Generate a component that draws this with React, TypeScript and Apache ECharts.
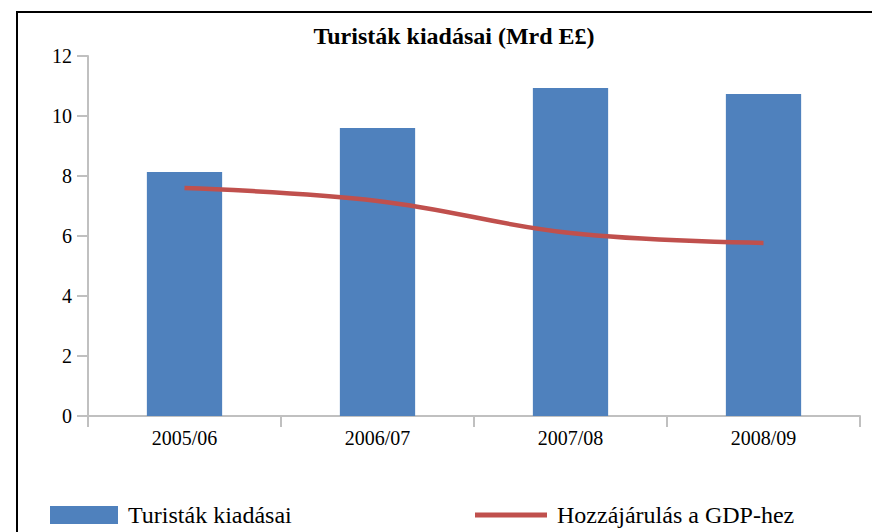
import React, { useEffect, useRef } from "react";
import * as echarts from "echarts";

const categories = ["2005/06", "2006/07", "2007/08", "2008/09"];
const spending = [8.13, 9.6, 10.93, 10.73];
const gdpShare = [7.6, 7.17, 6.1, 5.77];
const yTicks = { min: 0, max: 12, interval: 2 };
const titleText = "Turisták kiadásai (Mrd E£)";
const barName = "Turisták kiadásai";
const lineName = "Hozzájárulás a GDP-hez";

const FONT = "'Liberation Serif', 'Times New Roman', serif";

export default function App() {
  const ref = useRef<HTMLDivElement>(null);
  useEffect(() => {
    document.body.style.margin = "0";
    const chart = echarts.init(ref.current!, null, { renderer: "svg" });
    chart.setOption({
      animation: false,
      backgroundColor: "#ffffff",
      textStyle: { fontFamily: FONT },
      graphic: [
        {
          type: "polyline",
          shape: { points: [[17, 540], [17, 12], [880, 12]] },
          style: { stroke: "#000", lineWidth: 2, fill: "none" },
          silent: true,
        },
        {
          type: "text",
          x: 454,
          y: 36,
          style: {
            text: titleText,
            textAlign: "center",
            textVerticalAlign: "middle",
            font: `bold 24px ${FONT}`,
            fill: "#000",
          },
        },
      ],
      grid: { left: 88, right: 12, top: 56, bottom: 116, containLabel: false },
      legend: [
        {
          data: [barName],
          left: 50,
          top: 502,
          padding: 0,
          itemWidth: 68,
          itemHeight: 18,
          icon: "rect",
          textStyle: { fontFamily: FONT, fontSize: 24, lineHeight: 26, color: "#000", padding: [0, 0, 0, 5] },
        },
        {
          data: [{ name: lineName, icon: "rect" }],
          left: 475,
          top: 502,
          padding: 0,
          itemWidth: 72,
          itemHeight: 5,
          textStyle: { fontFamily: FONT, fontSize: 24, lineHeight: 26, color: "#000", padding: [0, 0, 0, 5] },
        },
      ],
      xAxis: {
        type: "category",
        data: categories,
        axisLine: { lineStyle: { color: "#c0c0c0", width: 2 } },
        axisTick: { show: true, length: 11, lineStyle: { color: "#c0c0c0", width: 2 } },
        axisLabel: { color: "#000", fontSize: 20, fontFamily: FONT, margin: 12 },
      },
      yAxis: {
        type: "value",
        min: yTicks.min,
        max: yTicks.max,
        interval: yTicks.interval,
        axisLine: { show: true, lineStyle: { color: "#c0c0c0", width: 2 } },
        axisTick: { show: true, length: 11, lineStyle: { color: "#c0c0c0", width: 2 } },
        splitLine: { show: false },
        axisLabel: { color: "#000", fontSize: 20, fontFamily: FONT, margin: 16 },
      },
      series: [
        {
          name: barName,
          type: "bar",
          data: spending,
          barWidth: "39%",
          itemStyle: { color: "#4F81BD" },
        },
        {
          name: lineName,
          type: "line",
          data: gdpShare,
          smooth: 0.4,
          symbol: "none",
          lineStyle: { color: "#C0504D", width: 4.5 },
          itemStyle: { color: "#C0504D" },
          z: 5,
        },
      ],
    });
    return () => chart.dispose();
  }, []);
  return (
    <div style={{ position: "fixed", left: 0, top: 0, width: 872, height: 532 }}>
      <div ref={ref} style={{ width: 872, height: 532 }} />
    </div>
  );
}
